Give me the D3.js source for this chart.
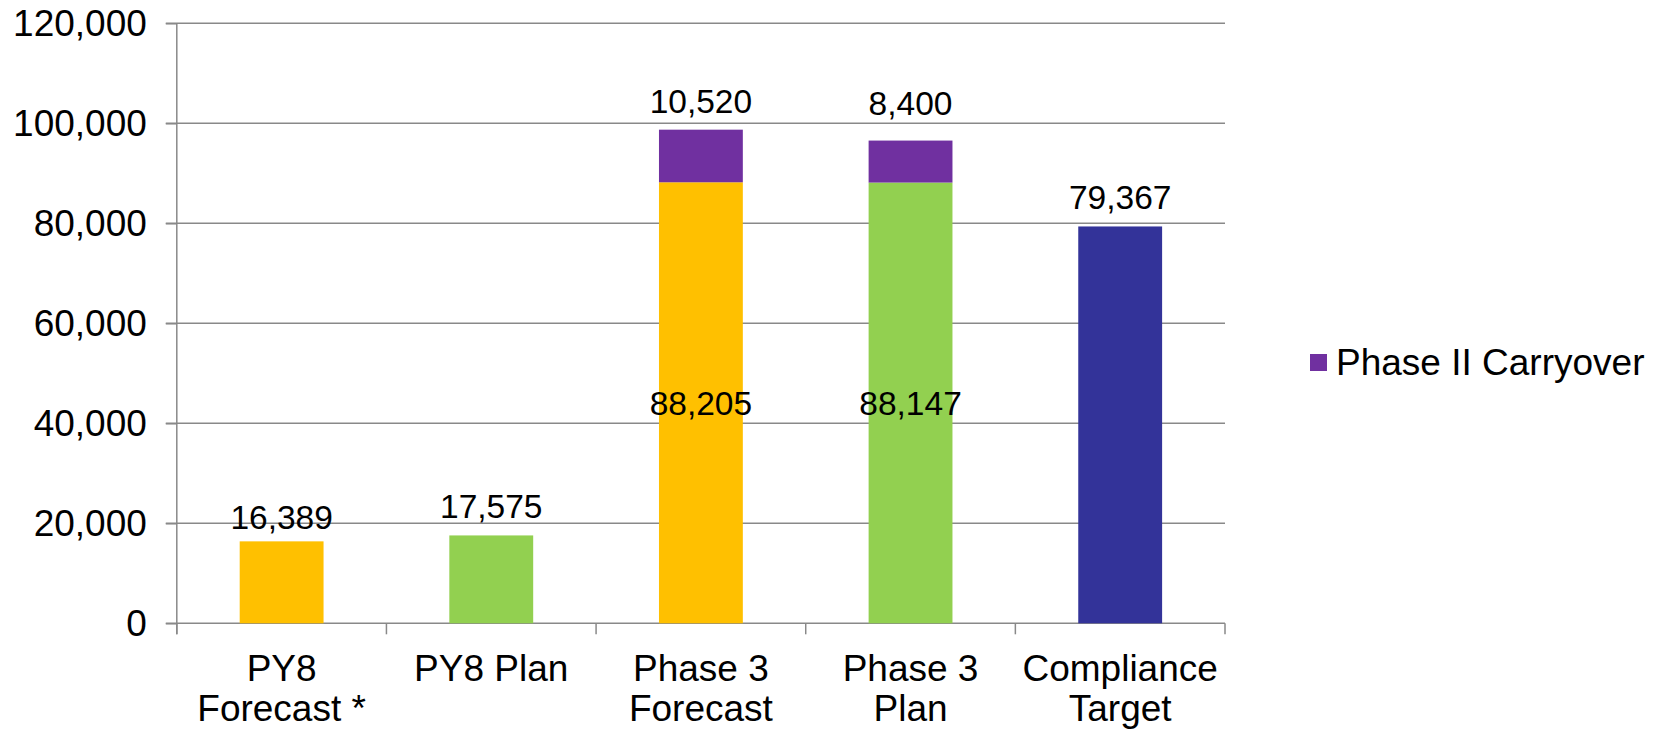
<!DOCTYPE html>
<html>
<head>
<meta charset="utf-8">
<script src="https://cdn.jsdelivr.net/npm/d3@7"></script>
<style>
  body { margin: 0; background: #fff; }
  text { font-family: "Liberation Sans", Arial, Helvetica, sans-serif; fill: #000; }
</style>
</head>
<body>
<svg id="chart" width="1660" height="731"></svg>
<script>
// Program totals by scenario
const categories = ["PY8\nForecast *", "PY8 Plan", "Phase 3\nForecast", "Phase 3\nPlan", "Compliance\nTarget"];
const baseValues = [16389, 17575, 88205, 88147, 79367];
const carryoverValues = [0, 0, 10520, 8400, 0];
const yTickValues = [0, 20000, 40000, 60000, 80000, 100000, 120000];
const legendLabel = "Phase II Carryover";

// Styling
const baseColors = ["#FFC000", "#92D050", "#FFC000", "#92D050", "#333399"];
const carryoverColor = "#7030A0";
const gridColor = "#898989";
// gap (px) between the top of a stack and its total label baseline
const topLabelGap = [12, 17, 17, 26, 17];

const svg = d3.select("#chart");
const plot = { left: 176.8, right: 1225, top: 23.3, bottom: 623.3 };

const x = d3.scaleBand()
  .domain(categories)
  .range([plot.left, plot.right])
  .paddingInner(0.6)
  .paddingOuter(0.3);

const y = d3.scaleLinear()
  .domain([0, 120000])
  .range([plot.bottom, plot.top]);

// Horizontal gridlines
svg.append("g")
  .selectAll("line")
  .data(yTickValues)
  .join("line")
  .attr("x1", plot.left - 11)
  .attr("x2", plot.right)
  .attr("y1", d => y(d))
  .attr("y2", d => y(d))
  .attr("stroke", gridColor)
  .attr("stroke-width", 1.5);

// Y axis
const yAxis = svg.append("g")
  .attr("transform", `translate(${plot.left},0)`)
  .call(d3.axisLeft(y).tickValues(yTickValues).tickFormat(d3.format(",")).tickSize(11).tickPadding(19));
yAxis.select(".domain").attr("stroke", gridColor).attr("stroke-width", 1.5)
  .attr("d", `M0,${plot.top}V${plot.bottom + 11}`);
yAxis.selectAll(".tick line").attr("stroke", gridColor).attr("stroke-width", 1.5);
yAxis.selectAll(".tick text")
  .attr("font-size", 37)
  .attr("dy", "0.34em")
  .style("font-family", '"Liberation Sans", Arial, sans-serif')
  .attr("fill", "#000");

// X axis: boundary ticks between categories
const boundaries = d3.range(categories.length + 1).map(i => plot.left + i * x.step());
svg.append("g")
  .selectAll("line")
  .data(boundaries)
  .join("line")
  .attr("x1", d => d).attr("x2", d => d)
  .attr("y1", plot.bottom).attr("y2", plot.bottom + 11)
  .attr("stroke", gridColor).attr("stroke-width", 1.5);

// Category labels (wrapped on newline)
const catLabels = svg.append("g")
  .selectAll("text")
  .data(categories)
  .join("text")
  .attr("x", d => x(d) + x.bandwidth() / 2)
  .attr("y", 681)
  .attr("text-anchor", "middle")
  .attr("font-size", 37);
catLabels.each(function(d) {
  const t = d3.select(this);
  d.split("\n").forEach((line, i) => {
    t.append("tspan")
      .attr("x", x(d) + x.bandwidth() / 2)
      .attr("dy", i === 0 ? 0 : 40)
      .text(line);
  });
});

// Base bars
svg.append("g")
  .selectAll("rect")
  .data(categories)
  .join("rect")
  .attr("x", d => x(d))
  .attr("width", x.bandwidth())
  .attr("y", (d, i) => y(baseValues[i]))
  .attr("height", (d, i) => y(0) - y(baseValues[i]))
  .attr("fill", (d, i) => baseColors[i]);

// Carryover segments stacked on top
svg.append("g")
  .selectAll("rect")
  .data(categories.filter((d, i) => carryoverValues[i] > 0))
  .join("rect")
  .attr("x", d => x(d))
  .attr("width", x.bandwidth())
  .attr("y", d => { const i = categories.indexOf(d); return y(baseValues[i] + carryoverValues[i]); })
  .attr("height", d => { const i = categories.indexOf(d); return y(baseValues[i]) - y(baseValues[i] + carryoverValues[i]); })
  .attr("fill", carryoverColor);

// Value labels
const fmt = d3.format(",");
const labels = svg.append("g").attr("font-size", 33.5).attr("text-anchor", "middle");
categories.forEach((d, i) => {
  const cx = x(d) + x.bandwidth() / 2;
  const top = baseValues[i] + carryoverValues[i];
  if (carryoverValues[i] > 0) {
    // base value in the middle of its segment, carryover above the stack
    labels.append("text")
      .attr("x", cx)
      .attr("y", y(baseValues[i] / 2))
      .attr("dy", "0.35em")
      .text(fmt(baseValues[i]));
    labels.append("text")
      .attr("x", cx)
      .attr("y", y(top) - topLabelGap[i])
      .text(fmt(carryoverValues[i]));
  } else {
    labels.append("text")
      .attr("x", cx)
      .attr("y", y(top) - topLabelGap[i])
      .text(fmt(baseValues[i]));
  }
});

// Legend
const legend = svg.append("g").attr("transform", "translate(1310,354)");
legend.append("rect").attr("width", 17).attr("height", 17).attr("fill", carryoverColor);
legend.append("text")
  .attr("x", 26).attr("y", 8.5).attr("dy", "0.35em")
  .attr("font-size", 37)
  .text(legendLabel);
</script>
</body>
</html>
